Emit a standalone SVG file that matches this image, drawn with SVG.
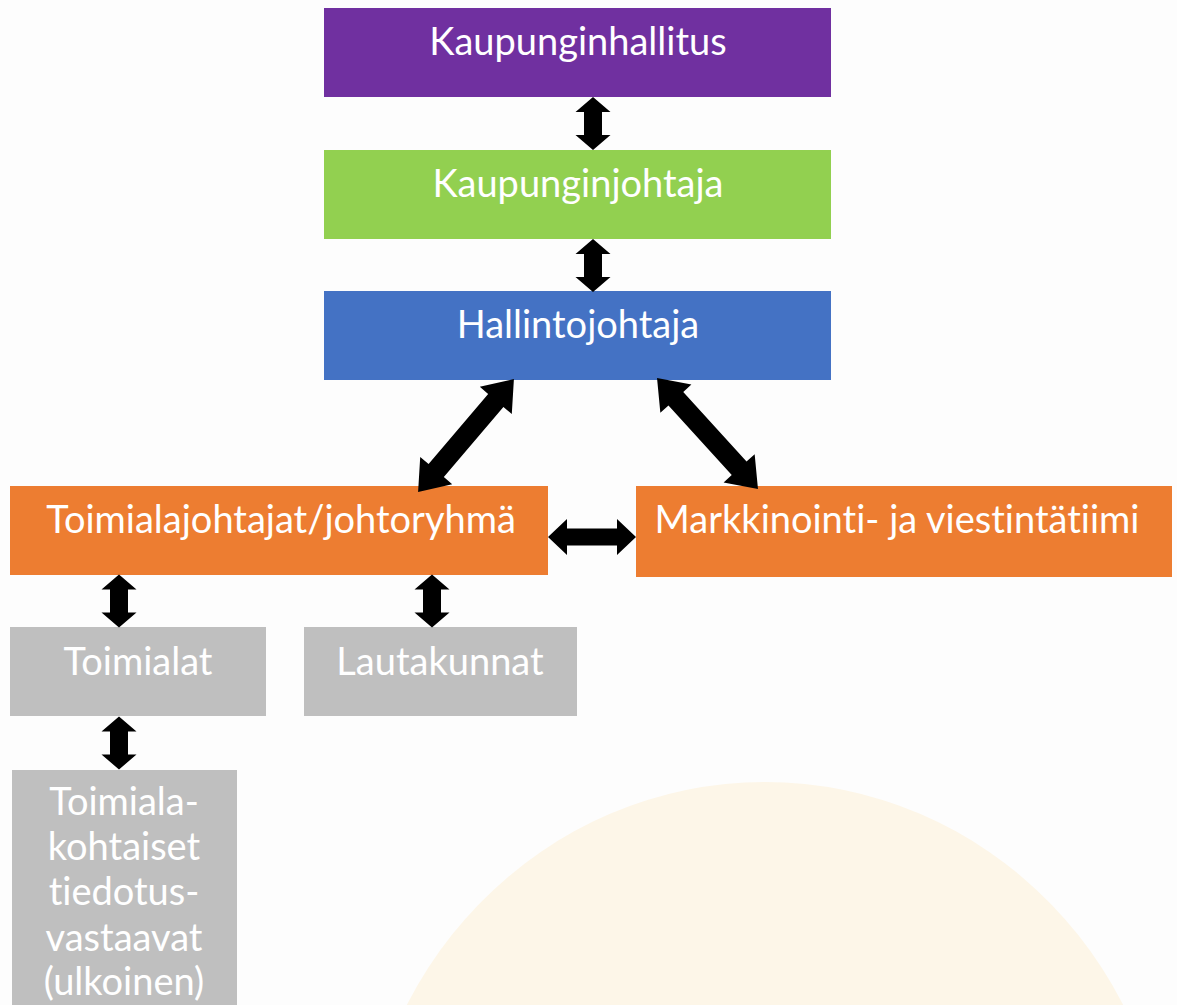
<svg xmlns="http://www.w3.org/2000/svg" width="1177" height="1005" viewBox="0 0 1177 1005">
<style>
  .lbl { font-family: Lato, "Open Sans", "Liberation Sans", sans-serif; font-size: 38px; fill: #ffffff; text-anchor: middle; font-variant-ligatures: none; font-feature-settings: "liga" 0, "dlig" 0; }
  .arr { fill: #000000; }
</style>
<defs>
  <polygon id="vArrow" points="0,-26.5 17.5,-11.5 9,-11.5 9,11.5 17.5,11.5 0,26.5 -17.5,11.5 -9,11.5 -9,-11.5 -17.5,-11.5"/>
</defs>
<rect x="0" y="0" width="1177" height="1005" fill="#fdfdfd"/>
<ellipse cx="765" cy="1200" rx="405" ry="418" fill="#fdf6e8"/>

<g id="kaupunginhallitus">
  <rect x="324" y="8" width="507" height="89" fill="#7030a0"/>
  <text class="lbl" x="578" y="55">Kaupunginhallitus</text>
</g>
<g id="kaupunginjohtaja">
  <rect x="324" y="150" width="507" height="89" fill="#92d050"/>
  <text class="lbl" x="578" y="197">Kaupunginjohtaja</text>
</g>
<g id="hallintojohtaja">
  <rect x="324" y="291" width="507" height="89" fill="#4472c4"/>
  <text class="lbl" x="578" y="338">Hallintojohtaja</text>
</g>
<g id="toimialajohtajat">
  <rect x="10" y="486" width="538" height="89" fill="#ed7d31"/>
  <text class="lbl" x="281" y="533">Toimialajohtajat/johtoryhmä</text>
</g>
<g id="markkinointi">
  <rect x="636" y="486" width="536" height="91" fill="#ed7d31"/>
  <text class="lbl" x="897" y="533">Markkinointi- ja viestintätiimi</text>
</g>
<g id="toimialat">
  <rect x="10" y="627" width="256" height="89" fill="#bfbfbf"/>
  <text class="lbl" x="138" y="675">Toimialat</text>
</g>
<g id="lautakunnat">
  <rect x="304" y="627" width="273" height="89" fill="#bfbfbf"/>
  <text class="lbl" x="440" y="675">Lautakunnat</text>
</g>
<g id="tiedotusvastaavat">
  <rect x="12" y="770" width="225" height="240" fill="#bfbfbf"/>
  <text class="lbl" x="124" y="815">Toimiala-</text>
  <text class="lbl" x="124" y="860">kohtaiset</text>
  <text class="lbl" x="124" y="905">tiedotus-</text>
  <text class="lbl" x="124" y="951">vastaavat</text>
  <text class="lbl" x="124" y="995">(ulkoinen)</text>
</g>

<g id="connectors" class="arr">
  <use href="#vArrow" x="593" y="123.5"/>
  <use href="#vArrow" x="593" y="265.5"/>
  <use href="#vArrow" x="119" y="601"/>
  <use href="#vArrow" x="432" y="601"/>
  <use href="#vArrow" x="119" y="743"/>
  <polygon points="548,537 567,519 567,528.5 617,528.5 617,519 636,537 617,555 617,545.5 567,545.5 567,555"/>
  <g transform="translate(466,435.5) rotate(130.35)">
    <polygon points="-74,0 -46,-21 -46,-10 46,-10 46,-21 74,0 46,21 46,10 -46,10 -46,21"/>
  </g>
  <g transform="translate(707.5,433.5) rotate(47.7)">
    <polygon points="-75,0 -47,-21 -47,-10 47,-10 47,-21 75,0 47,21 47,10 -47,10 -47,21"/>
  </g>
</g>
</svg>
